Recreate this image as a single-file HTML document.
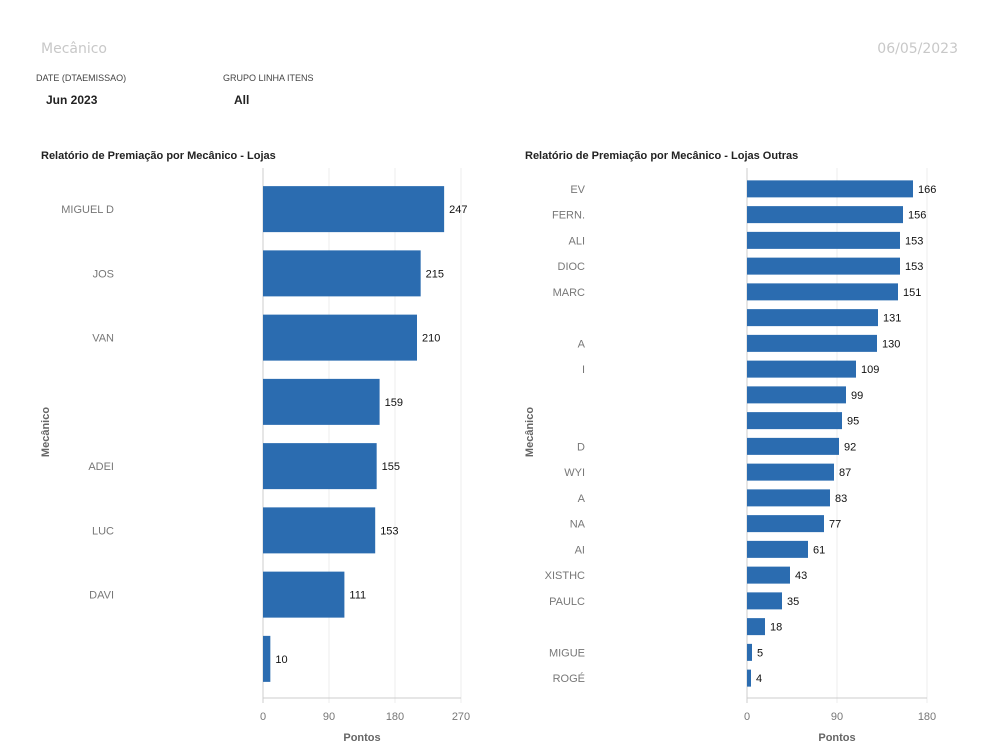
<!DOCTYPE html>
<html><head><meta charset="utf-8"><style>
body{margin:0;width:986px;height:745px;background:#fff;font-family:"Liberation Sans",sans-serif;overflow:hidden;position:relative}
.a{position:absolute;white-space:nowrap}
svg text{font-family:"Liberation Sans",Arial,sans-serif}
</style></head><body>
<div class="a" style="left:41px;top:41px;font-size:14px;color:#c8c8c8;font-family:'DejaVu Sans',sans-serif">Mecânico</div>
<div class="a" style="right:28px;top:41px;font-size:14px;color:#c8c8c8;font-family:'DejaVu Sans',sans-serif">06/05/2023</div>
<div class="a" style="left:36px;top:73px;font-size:9px;color:#444">DATE (DTAEMISSAO)</div>
<div class="a" style="left:46px;top:93px;font-size:12px;font-weight:bold;color:#222">Jun 2023</div>
<div class="a" style="left:223px;top:73px;font-size:9px;color:#444">GRUPO LINHA ITENS</div>
<div class="a" style="left:234px;top:93px;font-size:12px;font-weight:bold;color:#222">All</div>
<svg id="c" width="986" height="745" style="position:absolute;left:0;top:0"></svg>
<script>
const leftNames=["MIGUEL D","JOS","VAN","","ADEI","LUC","DAVI",""];
const leftValues=[247,215,210,159,155,153,111,10];
const leftTicks=[0,90,180,270];
const rightNames=["EV","FERN.","ALI","DIOC","MARC","","A","I","","","D","WYI","A","NA","AI","XISTHC","PAULC","","MIGUE","ROGÉ"];
const rightValues=[166,156,153,153,151,131,130,109,99,95,92,87,83,77,61,43,35,18,5,4];
const rightTicks=[0,90,180];
const svg=document.getElementById('c');
const NS='http://www.w3.org/2000/svg';
function mk(t,at,txt){const e=document.createElementNS(NS,t);for(const k in at)e.setAttribute(k,at[k]);if(txt!==undefined)e.textContent=txt;svg.appendChild(e);return e;}
function chart(cfg){
 const x=v=>cfg.x0+(v/cfg.max)*(cfg.x1-cfg.x0);
 const band=(cfg.yb-cfg.yt)/cfg.values.length;
 let t=mk('text',{x:cfg.tx,y:159,'font-size':11,'font-weight':'bold',fill:'#222'},cfg.title);
 
 
 cfg.ticks.forEach(v=>{
  let g=mk('line',{x1:x(v),x2:x(v),y1:168,y2:703,stroke:v===0?'#ccc':'#ececec','stroke-width':1});
  
  
  let l=mk('text',{x:x(v),y:720,'font-size':11,fill:'#777','text-anchor':'middle'},String(v));
  
  
 });
 let ax=mk('line',{x1:cfg.x0,x2:x(cfg.ticks[cfg.ticks.length-1]),y1:698,y2:698,stroke:'#ccc'});
 
 
 cfg.values.forEach((v,i)=>{
  const cy=cfg.yt+band*(i+0.5);
  let r=mk('rect',{x:cfg.x0,y:cy-cfg.bh/2,width:x(v)-cfg.x0,height:cfg.bh,fill:'#2b6cb0'});
  
  
  let lv=mk('text',{x:x(v)+5,y:cy+4,'font-size':11,fill:'#111'},String(v));
  
  
  let n=mk('text',{x:cfg.lx,y:cy+4,'font-size':11,fill:'#777','text-anchor':'end'},cfg.names[i]);
  
  
 });
 let xt=mk('text',{x:(cfg.x0+x(cfg.ticks[cfg.ticks.length-1]))/2,y:741,'font-size':11,'font-weight':'bold',fill:'#666','text-anchor':'middle'},'Pontos');
 
 
 let yt=mk('text',{x:0,y:0,'font-size':11,'font-weight':'bold',fill:'#666','text-anchor':'middle',transform:`translate(${cfg.ytx},432) rotate(-90)`},'Mecânico');
 
 
}
chart({id:'lojas',title:'Relatório de Premiação por Mecânico - Lojas',tx:41,values:leftValues,names:leftNames,ticks:leftTicks,max:270,x0:263,x1:461,yt:177,yb:691,bh:46,lx:114,ytx:49});
chart({id:'lojas-outras',title:'Relatório de Premiação por Mecânico - Lojas Outras',tx:525,values:rightValues,names:rightNames,ticks:rightTicks,max:180,x0:747,x1:927,yt:176,yb:691,bh:17,lx:585,ytx:533});
</script>
</body></html>
